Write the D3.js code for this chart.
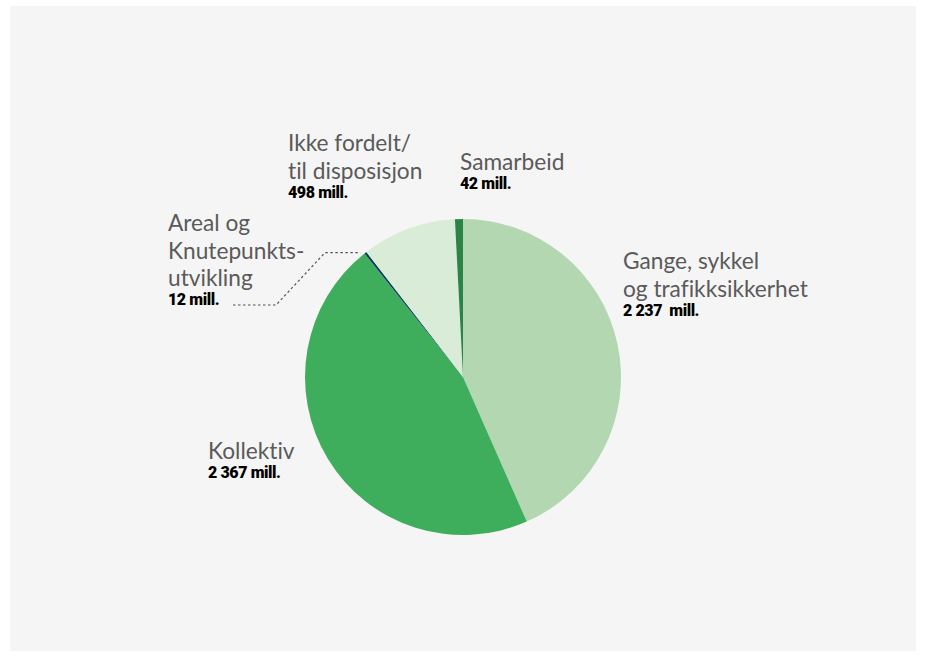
<!DOCTYPE html>
<html><head><meta charset="utf-8">
<script src="https://cdn.jsdelivr.net/npm/d3@7"></script>
<style>html,body{margin:0;padding:0;background:#fff;}svg{display:block;}text{white-space:pre;font-variant-ligatures:none;}</style>
</head><body>
<svg id="c" width="925" height="657"></svg>
<script>
const categories = ["Gange, sykkel og trafikksikkerhet", "Kollektiv", "Areal og Knutepunktsutvikling", "Ikke fordelt/til disposisjon", "Samarbeid"];
const values = [2237, 2367, 12, 498, 42];
const valueLabels = ["2 237  mill.", "2 367 mill.", "12 mill.", "498 mill.", "42 mill."];
const labelLines = [["Gange, sykkel", "og trafikksikkerhet"], ["Kollektiv"], ["Areal og", "Knutepunkts-", "utvikling"], ["Ikke fordelt/", "til disposisjon"], ["Samarbeid"]];
const colors = ["#b3d7b0", "#3fae5c", "#0d3b5e", "#d9ecd7", "#2b8446"];

const svg = d3.select("#c");
svg.append("rect").attr("x", 10).attr("y", 6).attr("width", 906).attr("height", 645).attr("fill", "#f5f5f5");

const cx = 463, cy = 377, r = 158;
const pie = d3.pie().sort(null).value(d => d);
const arcs = pie(values);
const arc = d3.arc().innerRadius(0).outerRadius(r);
const g = svg.append("g").attr("transform", `translate(${cx},${cy})`);
g.selectAll("path").data(arcs).join("path").attr("d", arc).attr("fill", (d, i) => colors[i]);

// label layout (x, first baseline)
const labelPos = [[623, 269], [208, 459], [168, 231], [288, 151], [460, 170]];
const lineH = 27.5;
labelLines.forEach((lines, i) => {
  const [x, y] = labelPos[i];
  const t = svg.append("text").attr("x", x).attr("y", y)
    .attr("font-family", "Lato, 'Open Sans', sans-serif").attr("font-size", 22.7).attr("fill", "#5a5a5a");
  lines.forEach((l, j) => t.append("tspan").attr("x", x).attr("y", y + j * lineH).text(l));
  svg.append("text").attr("x", x).attr("y", y + (lines.length - 1) * lineH + 19)
    .attr("font-family", "Roboto, sans-serif").attr("font-weight", 900).attr("font-size", 16)
    .attr("letter-spacing", -0.4).attr("fill", "#000").text(valueLabels[i]);
});

// leader line for the small Areal slice
const a = arcs[2];
const mid = (a.startAngle + a.endAngle) / 2;
const px = cx + Math.sin(mid) * r, py = cy - Math.cos(mid) * r;
svg.append("path")
  .attr("d", `M233,305 L276,305 L325,${py} L${px - 5},${py}`)
  .attr("fill", "none").attr("stroke", "#555").attr("stroke-width", 1.2).attr("stroke-dasharray", "2.5,2.5");
</script>
</body></html>
